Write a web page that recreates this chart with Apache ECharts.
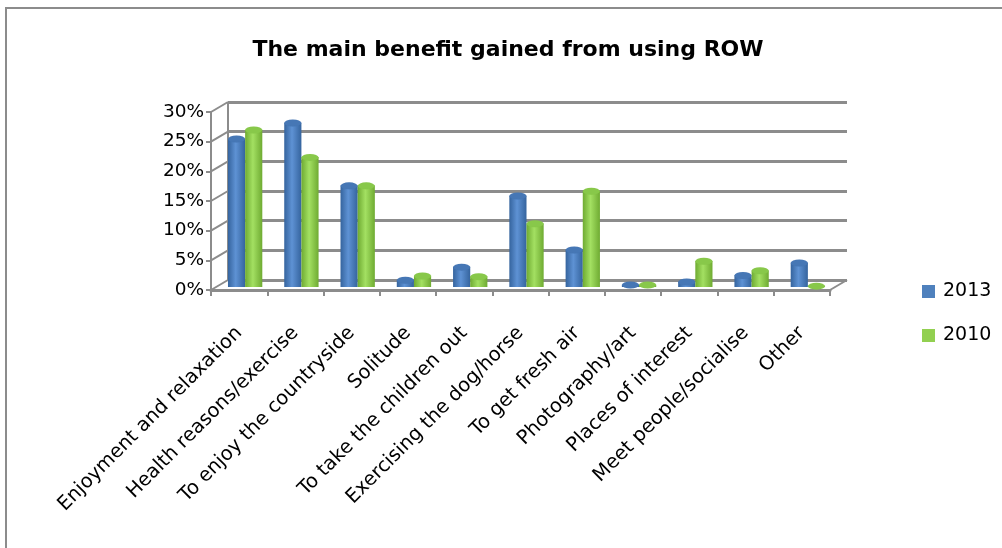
<!DOCTYPE html>
<html>
<head>
<meta charset="utf-8">
<script src="https://cdn.jsdelivr.net/npm/echarts@6/dist/echarts.min.js"></script>
<style>
  html, body { margin: 0; padding: 0; background: #fff; }
  #main { width: 1002px; height: 548px; }
</style>
</head>
<body>
<div id="main"></div>
<script>
// data (percent)
var categories = ['Enjoyment and relaxation', 'Health reasons/exercise', 'To enjoy the countryside',
  'Solitude', 'To take the children out', 'Exercising the dog/horse', 'To get fresh air',
  'Photography/art', 'Places of interest', 'Meet people/socialise', 'Other'];
var values2013 = [25.0, 27.7, 17.1, 1.2, 3.4, 15.4, 6.3, 0.4, 0.9, 2.0, 4.1];
var values2010 = [26.5, 21.9, 17.1, 1.9, 1.8, 10.7, 16.2, 0.4, 4.4, 2.8, 0.2];
var yTicks = [0, 5, 10, 15, 20, 25, 30];

// 3d-ish layout: front plane, bar plane and back wall
var W = 619, H = 178;
var front = { left: 211, top: 112 };
var depth = { dx: 17, dy: -10 };
var mid = { left: front.left + 6, top: front.top - 3 };
var back = { left: front.left + depth.dx, top: front.top + depth.dy };

var FONT = 'DejaVu Sans';
var GRAY = '#8c8c8c';

function cyl(c1, c2) {
  return new echarts.graphic.LinearGradient(0, 0, 1, 0, [
    { offset: 0, color: c1 }, { offset: 0.45, color: c2 }, { offset: 1, color: c1 }
  ]);
}

var myChart = echarts.init(document.getElementById('main'));

function yAx(gridIndex, opts) {
  return Object.assign({
    type: 'value', gridIndex: gridIndex,
    min: yTicks[0], max: yTicks[yTicks.length - 1], interval: yTicks[1] - yTicks[0],
    axisLine: { show: false }, axisTick: { show: false }, axisLabel: { show: false },
    splitLine: { show: false }
  }, opts || {});
}
function xAx(gridIndex, opts) {
  return Object.assign({
    type: 'category', gridIndex: gridIndex, data: categories,
    axisLine: { show: false }, axisTick: { show: false }, axisLabel: { show: false },
    splitLine: { show: false }
  }, opts || {});
}

var barCommon = {
  type: 'bar', xAxisIndex: 1, yAxisIndex: 1,
  barGap: 0, barCategoryGap: '39%', silent: true
};
var capCommon = {
  type: 'pictorialBar', xAxisIndex: 1, yAxisIndex: 1,
  barGap: 0, barCategoryGap: '39%', symbol: 'circle',
  symbolSize: ['100%', 7], symbolPosition: 'end', symbolOffset: [0, '-50%'],
  silent: true, z: 3
};

myChart.setOption({
  backgroundColor: '#fff',
  animation: false,
  title: {
    text: 'The main benefit gained from using ROW',
    left: 503, top: 34, textAlign: 'center',
    textStyle: { fontFamily: FONT, fontSize: 22, fontWeight: 'bold', color: '#000' }
  },
  legend: {
    orient: 'vertical', left: 917, top: 277,
    itemWidth: 13, itemHeight: 13, itemGap: 25, icon: 'rect',
    textStyle: { fontFamily: FONT, fontSize: 19, color: '#000', padding: [0, 0, 0, 3] },
    data: [
      { name: '2013', itemStyle: { color: '#4f81bd' } },
      { name: '2010', itemStyle: { color: '#92d050' } }
    ]
  },
  grid: [
    { left: front.left, top: front.top, width: W, height: H },
    { left: mid.left, top: mid.top, width: W, height: H },
    { left: back.left, top: back.top, width: W, height: H }
  ],
  xAxis: [
    xAx(0, {
      axisLine: { show: true, lineStyle: { color: GRAY, width: 3 } },
      axisTick: { show: true, length: 6, lineStyle: { color: GRAY, width: 2 } },
      axisLabel: {
        show: true, interval: 0, rotate: 45, margin: 40,
        fontFamily: FONT, fontSize: 19.5, color: '#000'
      }
    }),
    xAx(1),
    xAx(2)
  ],
  yAxis: [
    yAx(0, {
      axisLine: { show: true, lineStyle: { color: GRAY, width: 2 } },
      axisTick: { show: true, length: 5, lineStyle: { color: GRAY, width: 2 } },
      axisLabel: {
        show: true, margin: 7, formatter: '{value}%',
        fontFamily: FONT, fontSize: 18.5, color: '#000'
      }
    }),
    yAx(1),
    yAx(2, { splitLine: { show: true, lineStyle: { color: GRAY, width: 3 } } })
  ],
  series: [
    Object.assign({ name: '2013', data: values2013, itemStyle: { color: cyl('#35649e', '#5e92d4') } }, barCommon),
    Object.assign({ name: '2010', data: values2010, itemStyle: { color: cyl('#6fab32', '#a3e062') } }, barCommon),
    Object.assign({ name: '2013', data: values2013, itemStyle: { color: '#4677b5', borderColor: '#2f5b92', borderWidth: 1 } }, capCommon),
    Object.assign({ name: '2010', data: values2010, itemStyle: { color: '#88c84a', borderColor: '#5f9a2a', borderWidth: 1 } }, capCommon)
  ]
});

// left wall and floor edges joining the front axes to the back wall
var lines = [];
yTicks.forEach(function (v) {
  var y = myChart.convertToPixel({ yAxisIndex: 0 }, v);
  lines.push([front.left, y, back.left, y + depth.dy]);
});
lines.push([front.left, front.top, front.left, front.top + H]);
lines.push([front.left + W, front.top + H, back.left + W, back.top + H]);
lines.push([back.left, back.top, back.left, back.top + H]);
myChart.setOption({
  graphic: [{
    type: 'rect', shape: { x: 6, y: 8, width: 1200, height: 800 },
    style: { fill: 'none', stroke: '#8c8c8c', lineWidth: 2 }, silent: true
  }].concat(lines.map(function (l) {
    return {
      type: 'line', shape: { x1: l[0], y1: l[1], x2: l[2], y2: l[3] },
      style: { stroke: GRAY, lineWidth: 2 }, silent: true, z: 1
    };
  }))
});
</script>
</body>
</html>
